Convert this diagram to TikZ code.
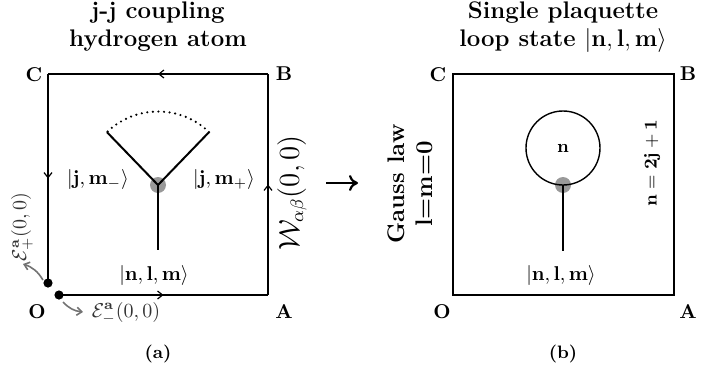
\documentclass[tikz,border=0pt]{standalone}
\usepackage{amsmath,amssymb}
\usetikzlibrary{arrows.meta,decorations.markings}
\begin{document}
\begin{tikzpicture}[x=0.5pt,y=0.5pt,
  edgeA/.style={line width=1.4pt, postaction={decorate},
    decoration={markings, mark=at position 0.5 with {\arrow{Straight Barb[length=2.5pt,width=4pt,line width=0.6pt]}}}},
  edgeB/.style={line width=0.7pt},
  arm/.style={line width=1pt},
  graydot/.style={circle, fill=black!40, inner sep=0pt, minimum size=8pt},
  blackdot/.style={circle, fill=black, inner sep=0pt, minimum size=4.6pt},
  corner/.style={font=\bfseries},
  lbl/.style={inner sep=1pt},
  grayarrow/.style={draw=black!55, line width=0.8pt, -{Straight Barb[length=2.5pt,width=4pt]}},
  ttl/.style={align=center, font=\large\bfseries},
  subcaption/.style={font=\small\bfseries}
]
\useasboundingbox (0,0) rectangle (718,371);

% ---------- panel (a) ----------
\node[ttl] (ta) at (158,344) {j-j coupling\\hydrogen atom};
\coordinate (aC) at (48,297);
\coordinate (aB) at (268,297);
\coordinate (aA) at (268,76);
\node[blackdot] (aO1) at (48,88) {};
\node[blackdot] (aO2) at (59,76) {};
\draw[edgeA] (aO2.center) -- (aA);
\draw[edgeA] (aA) -- (aB);
\draw[edgeA] (aB) -- (aC);
\draw[edgeA] (aC) -- (aO1.center);

\node[corner] (lC) at (34,296) {C};
\node[corner] (lB) at (284,297) {B};
\node[corner] (lO) at (37,59) {O};
\node[corner] (lA) at (284,59) {A};

\node[graydot] (v) at (158,186) {};
\path (v.center) ++(134:73.5) coordinate (armL);
\path (v.center) ++(46:73.5) coordinate (armR);
\coordinate (stemA) at (158,121);
\draw[arm] (v.center) -- (armL);
\draw[arm] (v.center) -- (armR);
\draw[arm] (v.center) -- (stemA);
\draw[line width=1.2pt, dash pattern=on 0pt off 2.8pt, line cap=round] (armR) arc[start angle=46, end angle=134, radius=73.5];

\node[lbl] (jmm) at (98,192) {$|\mathbf{j},\mathbf{m}_-\rangle$};
\node[lbl] (jmp) at (224,192) {$|\mathbf{j},\mathbf{m}_+\rangle$};
\node[lbl] (nlmA) at (154,96) {$|\mathbf{n},\mathbf{l},\mathbf{m}\rangle$};

\node[lbl, rotate=90, font=\fontsize{13.5}{16}\selectfont] (W) at (292,178) {$\mathcal{W}_{\alpha\beta}(0,0)$};
\node[lbl, rotate=90, text=black!80] (Ep) at (22,144) {$\mathcal{E}^{\mathbf{a}}_{+}(0,0)$};
\node[lbl, text=black!80] (Em) at (126,58) {$\mathcal{E}^{\mathbf{a}}_{-}(0,0)$};
\coordinate (ep1) at (43,91);
\coordinate (ep2) at (23,107);
\coordinate (em1) at (63,69);
\coordinate (em2) at (83,59);
\draw[grayarrow] (ep1) to[bend right=20] (ep2);
\draw[grayarrow] (em1) to[bend right=20] (em2);

\node[subcaption] (ca) at (158,17) {(a)};

% ---------- arrow between panels ----------
\coordinate (ar1) at (326,188);
\coordinate (ar2) at (358,188);
\draw[line width=1.2pt, -{Computer Modern Rightarrow[length=4.5pt,width=8pt,line width=1.1pt]}] (ar1) -- (ar2);

% ---------- panel (b) ----------
\node[ttl] (tb) at (563,344) {Single plaquette\\loop state $|\mathbf{n},\mathbf{l},\mathbf{m}\rangle$};
\node[draw, edgeB, minimum width=110.5pt, minimum height=110.5pt, inner sep=0pt] (sq) at (563.5,186.5) {};
\node[corner] (mC) at (438,296) {C};
\node[corner] (mB) at (688,297) {B};
\node[corner] (mO) at (442,59) {O};
\node[corner] (mA) at (688,59) {A};

\node[graydot] (vb) at (563,186) {};
\node[draw, circle, line width=0.7pt, minimum size=37pt, inner sep=0pt, font=\small\bfseries] (loop) at (563,223) {n};
\coordinate (stemB) at (563,120);
\draw[line width=0.8pt] (vb.center) -- (stemB);

\node[lbl] (nlmB) at (561,96) {$|\mathbf{n},\mathbf{l},\mathbf{m}\rangle$};
\node[lbl, rotate=90, font=\small] (nj) at (652,208) {$\mathbf{n}=\mathbf{2j}+\mathbf{1}$};
\node[rotate=90, align=center, font=\large\bfseries] (gauss) at (410,187) {Gauss law\\l=m=0};

\node[subcaption] (cb) at (563,17) {(b)};
\end{tikzpicture}
\end{document}
